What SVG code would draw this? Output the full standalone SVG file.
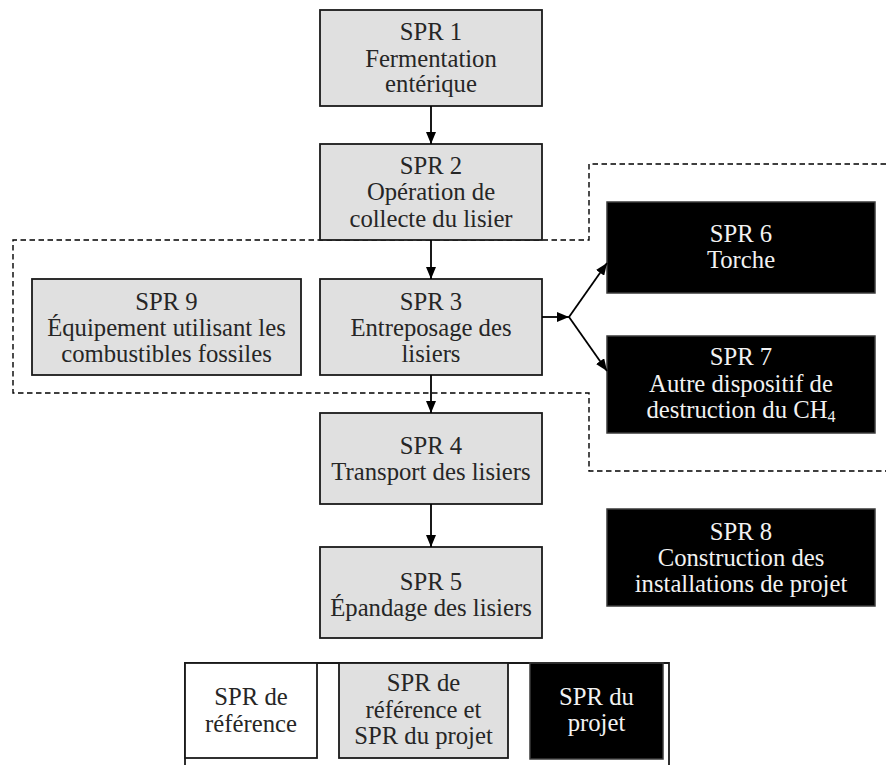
<svg xmlns="http://www.w3.org/2000/svg" width="886" height="765" viewBox="0 0 886 765">
<style>
text{font-family:"Liberation Serif","Times New Roman",serif;font-size:24.7px;text-anchor:middle;fill:#262626}
.g rect{fill:#e0e0e0;stroke:#1a1a1a;stroke-width:1.8}
.b rect{fill:#000;stroke:#3a3a3a;stroke-width:1.5}
.b text{fill:#f2f2f2}
.w rect{fill:#fff;stroke:#1a1a1a;stroke-width:1.8}
.c line,.c path{stroke:#000;stroke-width:1.8;fill:none}
.d{stroke:#000;stroke-width:1.4;fill:none;stroke-dasharray:5.5 3.5}
.sub{font-size:16px}
</style>
<defs>
<marker id="ah" markerWidth="12" markerHeight="10" refX="12" refY="5" orient="auto" markerUnits="userSpaceOnUse">
<path d="M0,0 L12,5 L0,10 Z" fill="#000"/>
</marker>
</defs>
<path class="d" d="M886,164 H589 V240 H13 V393 H589 V471 H886"/>
<g id="spr1" class="g"><rect x="320" y="10" width="222" height="96"/><text x="431" y="40">SPR 1</text><text x="431" y="66.5">Fermentation</text><text x="431" y="92">entérique</text></g>
<g id="spr2" class="g"><rect x="320" y="144" width="222" height="96"/><text x="431" y="174">SPR 2</text><text x="431" y="200">Opération de</text><text x="431" y="226.5">collecte du lisier</text></g>
<g id="spr3" class="g"><rect x="320" y="279" width="222" height="96"/><text x="431" y="310">SPR 3</text><text x="431" y="336">Entreposage des</text><text x="431" y="362">lisiers</text></g>
<g id="spr9" class="g"><rect x="32" y="279" width="269" height="96"/><text x="166.5" y="310">SPR 9</text><text x="166.5" y="336">Équipement utilisant les</text><text x="166.5" y="362">combustibles fossiles</text></g>
<g id="spr4" class="g"><rect x="320" y="413" width="222" height="91"/><text x="431" y="454">SPR 4</text><text x="431" y="480">Transport des lisiers</text></g>
<g id="spr5" class="g"><rect x="320" y="547" width="222" height="91"/><text x="431" y="590">SPR 5</text><text x="431" y="616">Épandage des lisiers</text></g>
<g id="spr6" class="b"><rect x="607" y="202" width="268" height="91"/><text x="741" y="242">SPR 6</text><text x="741" y="268">Torche</text></g>
<g id="spr7" class="b"><rect x="607" y="336" width="268" height="97"/><text x="741" y="365">SPR 7</text><text x="741" y="392">Autre dispositif de</text><text x="741" y="418">destruction du CH<tspan class="sub" dy="4">4</tspan></text></g>
<g id="spr8" class="b"><rect x="607" y="509" width="268" height="97"/><text x="741" y="540">SPR 8</text><text x="741" y="566">Construction des</text><text x="741" y="592">installations de projet</text></g>
<g id="legend">
<path d="M185,765 V663 H669 V765" stroke="#1a1a1a" stroke-width="1.8" fill="none"/>
<g id="leg-ref" class="w"><rect x="185" y="663" width="132" height="95"/><text x="251" y="705">SPR de</text><text x="251" y="732">référence</text></g>
<g id="leg-both" class="g"><rect x="339" y="663" width="169" height="95"/><text x="423.5" y="691">SPR de</text><text x="423.5" y="718">référence et</text><text x="423.5" y="744">SPR du projet</text></g>
<g id="leg-proj" class="b"><rect x="530" y="663" width="133" height="96"/><text x="596.5" y="705">SPR du</text><text x="596.5" y="731">projet</text></g>
</g>
<g id="connectors" class="c">
<line x1="431" y1="106" x2="431" y2="144" marker-end="url(#ah)"/>
<line x1="431" y1="240" x2="431" y2="279" marker-end="url(#ah)"/>
<line x1="431" y1="375" x2="431" y2="413" marker-end="url(#ah)"/>
<line x1="431" y1="504" x2="431" y2="547" marker-end="url(#ah)"/>
<line x1="542" y1="317" x2="569" y2="317" marker-end="url(#ah)"/>
<line x1="569" y1="317" x2="607" y2="263" marker-end="url(#ah)"/>
<line x1="569" y1="317" x2="607" y2="371" marker-end="url(#ah)"/>
</g>
</svg>
